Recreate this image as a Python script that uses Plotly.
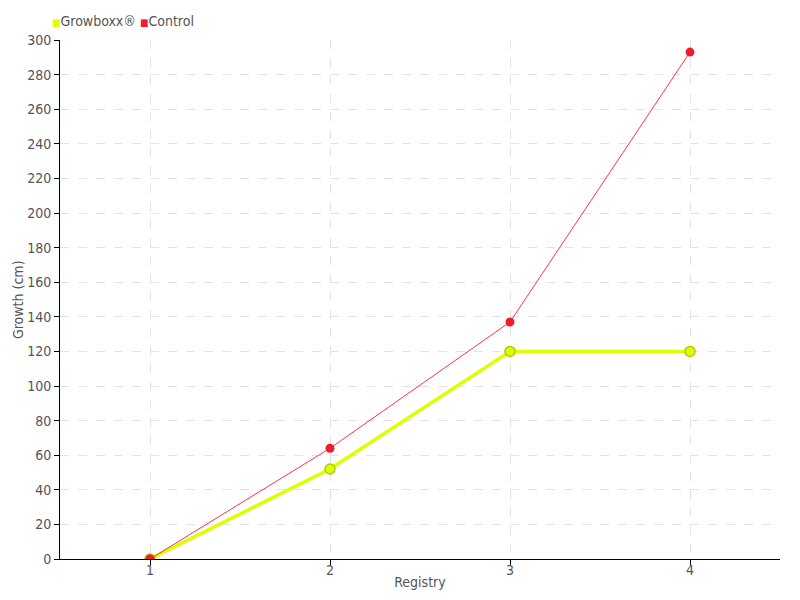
import plotly.graph_objects as go

registry = [1, 2, 3, 4]
growboxx = [0, 52, 120, 120]
control = [0, 64, 137, 293]
y_ticks = list(range(0, 301, 20))
series_names = ["Growboxx®", "Control"]

FONT = "DejaVu Sans Condensed, DejaVu Sans, sans-serif"
YEL = "#ddff00"
RED = "#ee1c2e"
GREY = "#555555"

fig = go.Figure()
fig.add_trace(go.Scatter(
    x=registry, y=growboxx, mode="lines+markers", name=series_names[0],
    line=dict(color=YEL, width=3.5),
    marker=dict(size=10, color=YEL, line=dict(color="#b8c800", width=1.5)),
    showlegend=False))
fig.add_trace(go.Scatter(
    x=registry, y=control, mode="lines+markers", name=series_names[1],
    line=dict(color="#ff3344", width=1),
    marker=dict(size=9, color=RED),
    showlegend=False))

legend_text = (f'<span style="color:{YEL};font-size:10px">■</span>{series_names[0]} '
               f'<span style="color:{RED};font-size:10px">■</span>{series_names[1]}')
fig.add_annotation(text=legend_text, xref="paper", yref="paper", x=-0.014, y=1.037,
                   xanchor="left", yanchor="middle", showarrow=False,
                   font=dict(family=FONT, size=14, color=GREY))

axfont = dict(family=FONT, size=14, color=GREY)
# y-axis title placed as annotation to match position
fig.add_annotation(text="Growth (cm)", xref="paper", yref="paper", x=-0.059, y=0.5,
                   xanchor="center", yanchor="middle", textangle=-90, showarrow=False,
                   font=axfont)

grid = dict(showgrid=True, gridcolor="#e3e3e3", griddash="dash", gridwidth=1)
fig.update_layout(
    width=800, height=600,
    margin=dict(l=52, r=28, t=32, b=49, autoexpand=False),
    plot_bgcolor="white", paper_bgcolor="white",
    font=axfont,
    showlegend=False,
    xaxis=dict(range=[0.5, 4.5], tickvals=registry, ticktext=[str(v) for v in registry],
               showline=True, linecolor="black", linewidth=1, ticks="outside",
               ticklen=5, tickcolor="black", zeroline=False, automargin=False,
               tickfont=axfont, ticklabelstandoff=-7,
               title=dict(text="Registry", standoff=0, font=axfont), **grid),
    yaxis=dict(range=[0, 300], tickvals=y_ticks, showline=True, linecolor="black",
               linewidth=1, ticks="outside", ticklen=5, tickcolor="black",
               zeroline=False, automargin=False, tickfont=axfont, **grid),
)
fig.write_html("out.html")
